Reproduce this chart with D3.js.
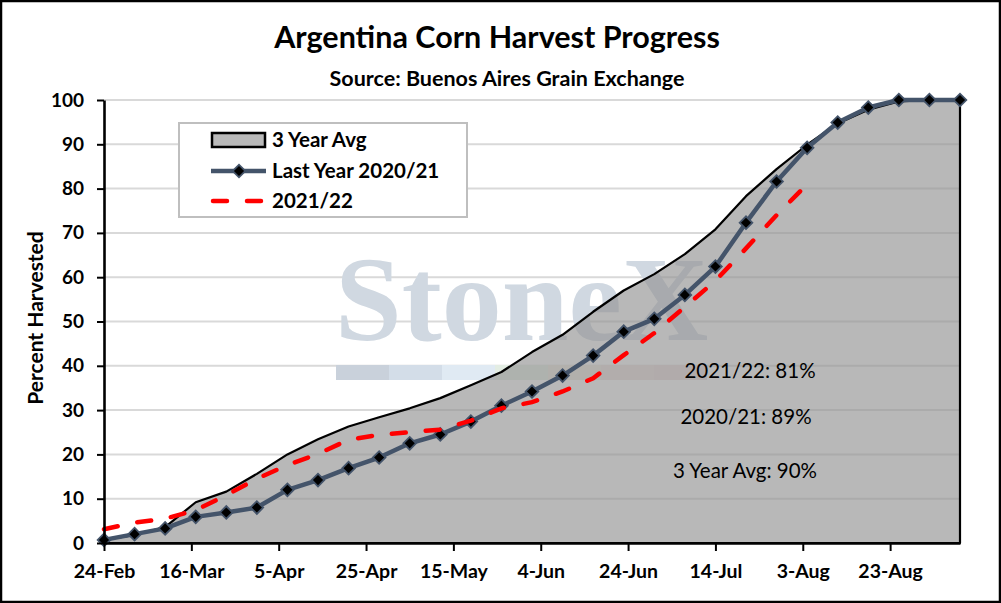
<!DOCTYPE html>
<html>
<head>
<meta charset="utf-8">
<script src="https://cdn.jsdelivr.net/npm/d3@7"></script>
<style>
  body { margin: 0; background: #fff; }
  svg { display: block; }
</style>
</head>
<body>
<svg width="1001" height="603"></svg>
<script>
// weekly report dates (2022 season)
const weeks = ["24-Feb", "3-Mar", "10-Mar", "17-Mar", "24-Mar", "31-Mar", "7-Apr", "14-Apr", "21-Apr", "28-Apr",
  "5-May", "12-May", "19-May", "26-May", "2-Jun", "9-Jun", "16-Jun", "23-Jun", "30-Jun", "7-Jul",
  "14-Jul", "21-Jul", "28-Jul", "4-Aug", "11-Aug", "18-Aug", "25-Aug", "1-Sep", "8-Sep"];

const avg3 = [0.7, 1.8, 3.6, 9.2, 11.6, 15.6, 20.0, 23.4, 26.3, 28.4,
  30.4, 32.7, 35.6, 38.6, 43.1, 47.0, 52.2, 57.0, 60.7, 65.2,
  70.8, 78.3, 84.4, 89.9, 94.7, 97.8, 99.7, 100, 100];

const lastYear = [0.7, 2.0, 3.3, 5.9, 6.9, 8.0, 12.0, 14.2, 16.9, 19.3,
  22.5, 24.5, 27.4, 31.0, 34.2, 37.8, 42.3, 47.7, 50.6, 56.0,
  62.4, 72.3, 81.6, 89.2, 94.9, 98.3, 100, 100, 100];

const current = [3.1, 4.6, 5.5, 7.4, 10.8, 14.5, 17.6, 20.1, 23.3, 24.4,
  25.0, 25.6, 27.6, 30.4, 31.8, 34.2, 37.2, 42.4, 47.4, 53.3,
  59.2, 66.5, 74.0, 81.0];

const tickLabels = ["24-Feb", "16-Mar", "5-Apr", "25-Apr", "15-May", "4-Jun", "24-Jun", "14-Jul", "3-Aug", "23-Aug"];
const yTicks = [0, 10, 20, 30, 40, 50, 60, 70, 80, 90, 100];
const legendLabels = ["3 Year Avg", "Last Year 2020/21", "2021/22"];
const notes = ["2021/22: 81%", "2020/21: 89%", "3 Year Avg: 90%"];

const width = 1001, height = 603;
const font = "Lato, 'Open Sans', sans-serif";
const slate = "#44546a";

const parse = s => d3.utcParse("%d-%b-%Y")(s + "-2022");
const fmt = d3.utcFormat("%-d-%b");

const x = d3.scaleUtc()
  .domain([parse(weeks[0]), parse(weeks[weeks.length - 1])])
  .range([104, 960]);
const y = d3.scaleLinear().domain([0, 100]).range([543, 100]);

const svg = d3.select("svg");

svg.append("rect").attr("width", width).attr("height", height).attr("fill", "#fff");

// gridlines
svg.append("g")
  .selectAll("line")
  .data(yTicks.filter(d => d > 0))
  .join("line")
  .attr("x1", x.range()[0]).attr("x2", x.range()[1])
  .attr("y1", d => y(d)).attr("y2", d => y(d))
  .attr("stroke", "#d9d9d9")
  .attr("stroke-width", 2);

// watermark
const wm = svg.append("g");
wm.append("text")
  .attr("x", 335).attr("y", 340)
  .attr("font-family", "'Liberation Serif', 'DejaVu Serif', serif")
  .attr("font-weight", "bold")
  .attr("font-size", 120)
  .attr("fill", "#d0d8e1")
  .text("StoneX");
const wmColors = ["#c9d1db", "#d3dde8", "#e0eaf3", "#e3ede3", "#ede9dc", "#eedfdd", "#ead9d9"];
wm.selectAll("rect")
  .data(wmColors)
  .join("rect")
  .attr("x", (d, i) => 336 + i * 53)
  .attr("y", 365)
  .attr("width", 53)
  .attr("height", 15)
  .attr("fill", d => d);

// 3 year average area
const pts = weeks.map((w, i) => ({ date: parse(w), avg: avg3[i], last: lastYear[i], cur: current[i] }));

const area = d3.area()
  .x(d => x(d.date))
  .y0(y(0))
  .y1(d => y(d.avg));

svg.append("path")
  .datum(pts)
  .attr("d", area)
  .attr("fill", "#929292")
  .attr("fill-opacity", 0.65)
  .attr("stroke", "#000")
  .attr("stroke-width", 2.2)
  .attr("stroke-linejoin", "round");

// last year line
const lastLine = d3.line().x(d => x(d.date)).y(d => y(d.last));
svg.append("path")
  .datum(pts)
  .attr("d", lastLine)
  .attr("fill", "none")
  .attr("stroke", slate)
  .attr("stroke-width", 4.5)
  .attr("stroke-linejoin", "round");

const diamond = d3.symbol().type(d3.symbolSquare).size(80);
svg.append("g")
  .selectAll("path")
  .data(pts)
  .join("path")
  .attr("d", diamond)
  .attr("transform", d => `translate(${x(d.date)},${y(d.last)}) rotate(45)`)
  .attr("fill", "#000")
  .attr("stroke", slate)
  .attr("stroke-width", 1.8);

// current season dashed line
const curLine = d3.line().x(d => x(d.date)).y(d => y(d.cur));
svg.append("path")
  .datum(pts.filter(d => d.cur !== undefined))
  .attr("d", curLine)
  .attr("fill", "none")
  .attr("stroke", "#ff0000")
  .attr("stroke-width", 4.5)
  .attr("stroke-dasharray", "14,20")
  .attr("stroke-linecap", "round");

// axes
const xAxis = d3.axisBottom(x)
  .tickValues(tickLabels.map(parse))
  .tickFormat(fmt)
  .tickSize(8)
  .tickSizeOuter(0);
const gx = svg.append("g")
  .attr("transform", `translate(0,${y(0)})`)
  .call(xAxis);
gx.select(".domain").attr("stroke", "#000").attr("stroke-width", 2.6);
gx.selectAll(".tick line").attr("stroke", "#000").attr("stroke-width", 2);
gx.selectAll(".tick text")
  .attr("y", 35).attr("dy", null)
  .attr("font-family", font).attr("font-weight", "bold").attr("font-size", 19.5)
  .attr("fill", "#000");

const yAxis = d3.axisLeft(y)
  .tickValues(yTicks)
  .tickSize(7)
  .tickSizeOuter(0);
const gy = svg.append("g")
  .attr("transform", `translate(${x.range()[0]},0)`)
  .call(yAxis);
gy.select(".domain").attr("stroke", "#000").attr("stroke-width", 2.6);
gy.selectAll(".tick line").attr("stroke", "#000").attr("stroke-width", 2);
gy.selectAll(".tick text")
  .attr("x", -20)
  .attr("font-family", font).attr("font-weight", "bold").attr("font-size", 19)
  .attr("fill", "#000");

// y axis title
svg.append("text")
  .attr("transform", "translate(43,318) rotate(-90)")
  .attr("text-anchor", "middle")
  .attr("font-family", font).attr("font-weight", "bold").attr("font-size", 21)
  .text("Percent Harvested");

// title
svg.append("text")
  .attr("x", 497).attr("y", 48)
  .attr("text-anchor", "middle")
  .attr("font-family", font).attr("font-weight", "bold").attr("font-size", 30.5)
  .text("Argentina Corn Harvest Progress");
svg.append("text")
  .attr("x", 507).attr("y", 86)
  .attr("text-anchor", "middle")
  .attr("font-family", font).attr("font-weight", "bold").attr("font-size", 21.5)
  .text("Source: Buenos Aires Grain Exchange");

// legend
const lg = svg.append("g");
lg.append("rect")
  .attr("x", 179).attr("y", 123).attr("width", 288).attr("height", 94)
  .attr("fill", "#fff").attr("stroke", "#bfbfbf").attr("stroke-width", 2);
const rowY = [140, 171, 201];
lg.append("rect")
  .attr("x", 212).attr("y", rowY[0] - 7).attr("width", 53).attr("height", 14)
  .attr("fill", "#b9b9b9").attr("stroke", "#000").attr("stroke-width", 2.5);
lg.append("line")
  .attr("x1", 211).attr("x2", 266).attr("y1", rowY[1]).attr("y2", rowY[1])
  .attr("stroke", slate).attr("stroke-width", 4.5);
lg.append("path")
  .attr("d", diamond)
  .attr("transform", `translate(239,${rowY[1]}) rotate(45)`)
  .attr("fill", "#000").attr("stroke", slate).attr("stroke-width", 1.8);
lg.append("line")
  .attr("x1", 213).attr("x2", 266).attr("y1", rowY[2]).attr("y2", rowY[2])
  .attr("stroke", "#ff0000").attr("stroke-width", 4.5)
  .attr("stroke-dasharray", "14,20").attr("stroke-linecap", "round");
lg.selectAll("text.lab")
  .data(legendLabels)
  .join("text")
  .attr("class", "lab")
  .attr("x", 272)
  .attr("y", (d, i) => rowY[i])
  .attr("dy", "0.35em")
  .attr("font-family", font).attr("font-weight", "bold").attr("font-size", 20.5)
  .text(d => d);

// annotations
const noteX = [750, 746, 745];
const noteY = [371, 417, 471];
svg.append("g")
  .selectAll("text")
  .data(notes)
  .join("text")
  .attr("x", (d, i) => noteX[i])
  .attr("y", (d, i) => noteY[i])
  .attr("dy", "0.35em")
  .attr("text-anchor", "middle")
  .attr("font-family", font).attr("font-size", 20.5)
  .attr("fill", "#000")
  .text(d => d);

// outer frame
svg.append("rect")
  .attr("x", 1).attr("y", 1).attr("width", width - 2).attr("height", height - 2)
  .attr("fill", "none").attr("stroke", "#000").attr("stroke-width", 2.5);
</script>
</body>
</html>
